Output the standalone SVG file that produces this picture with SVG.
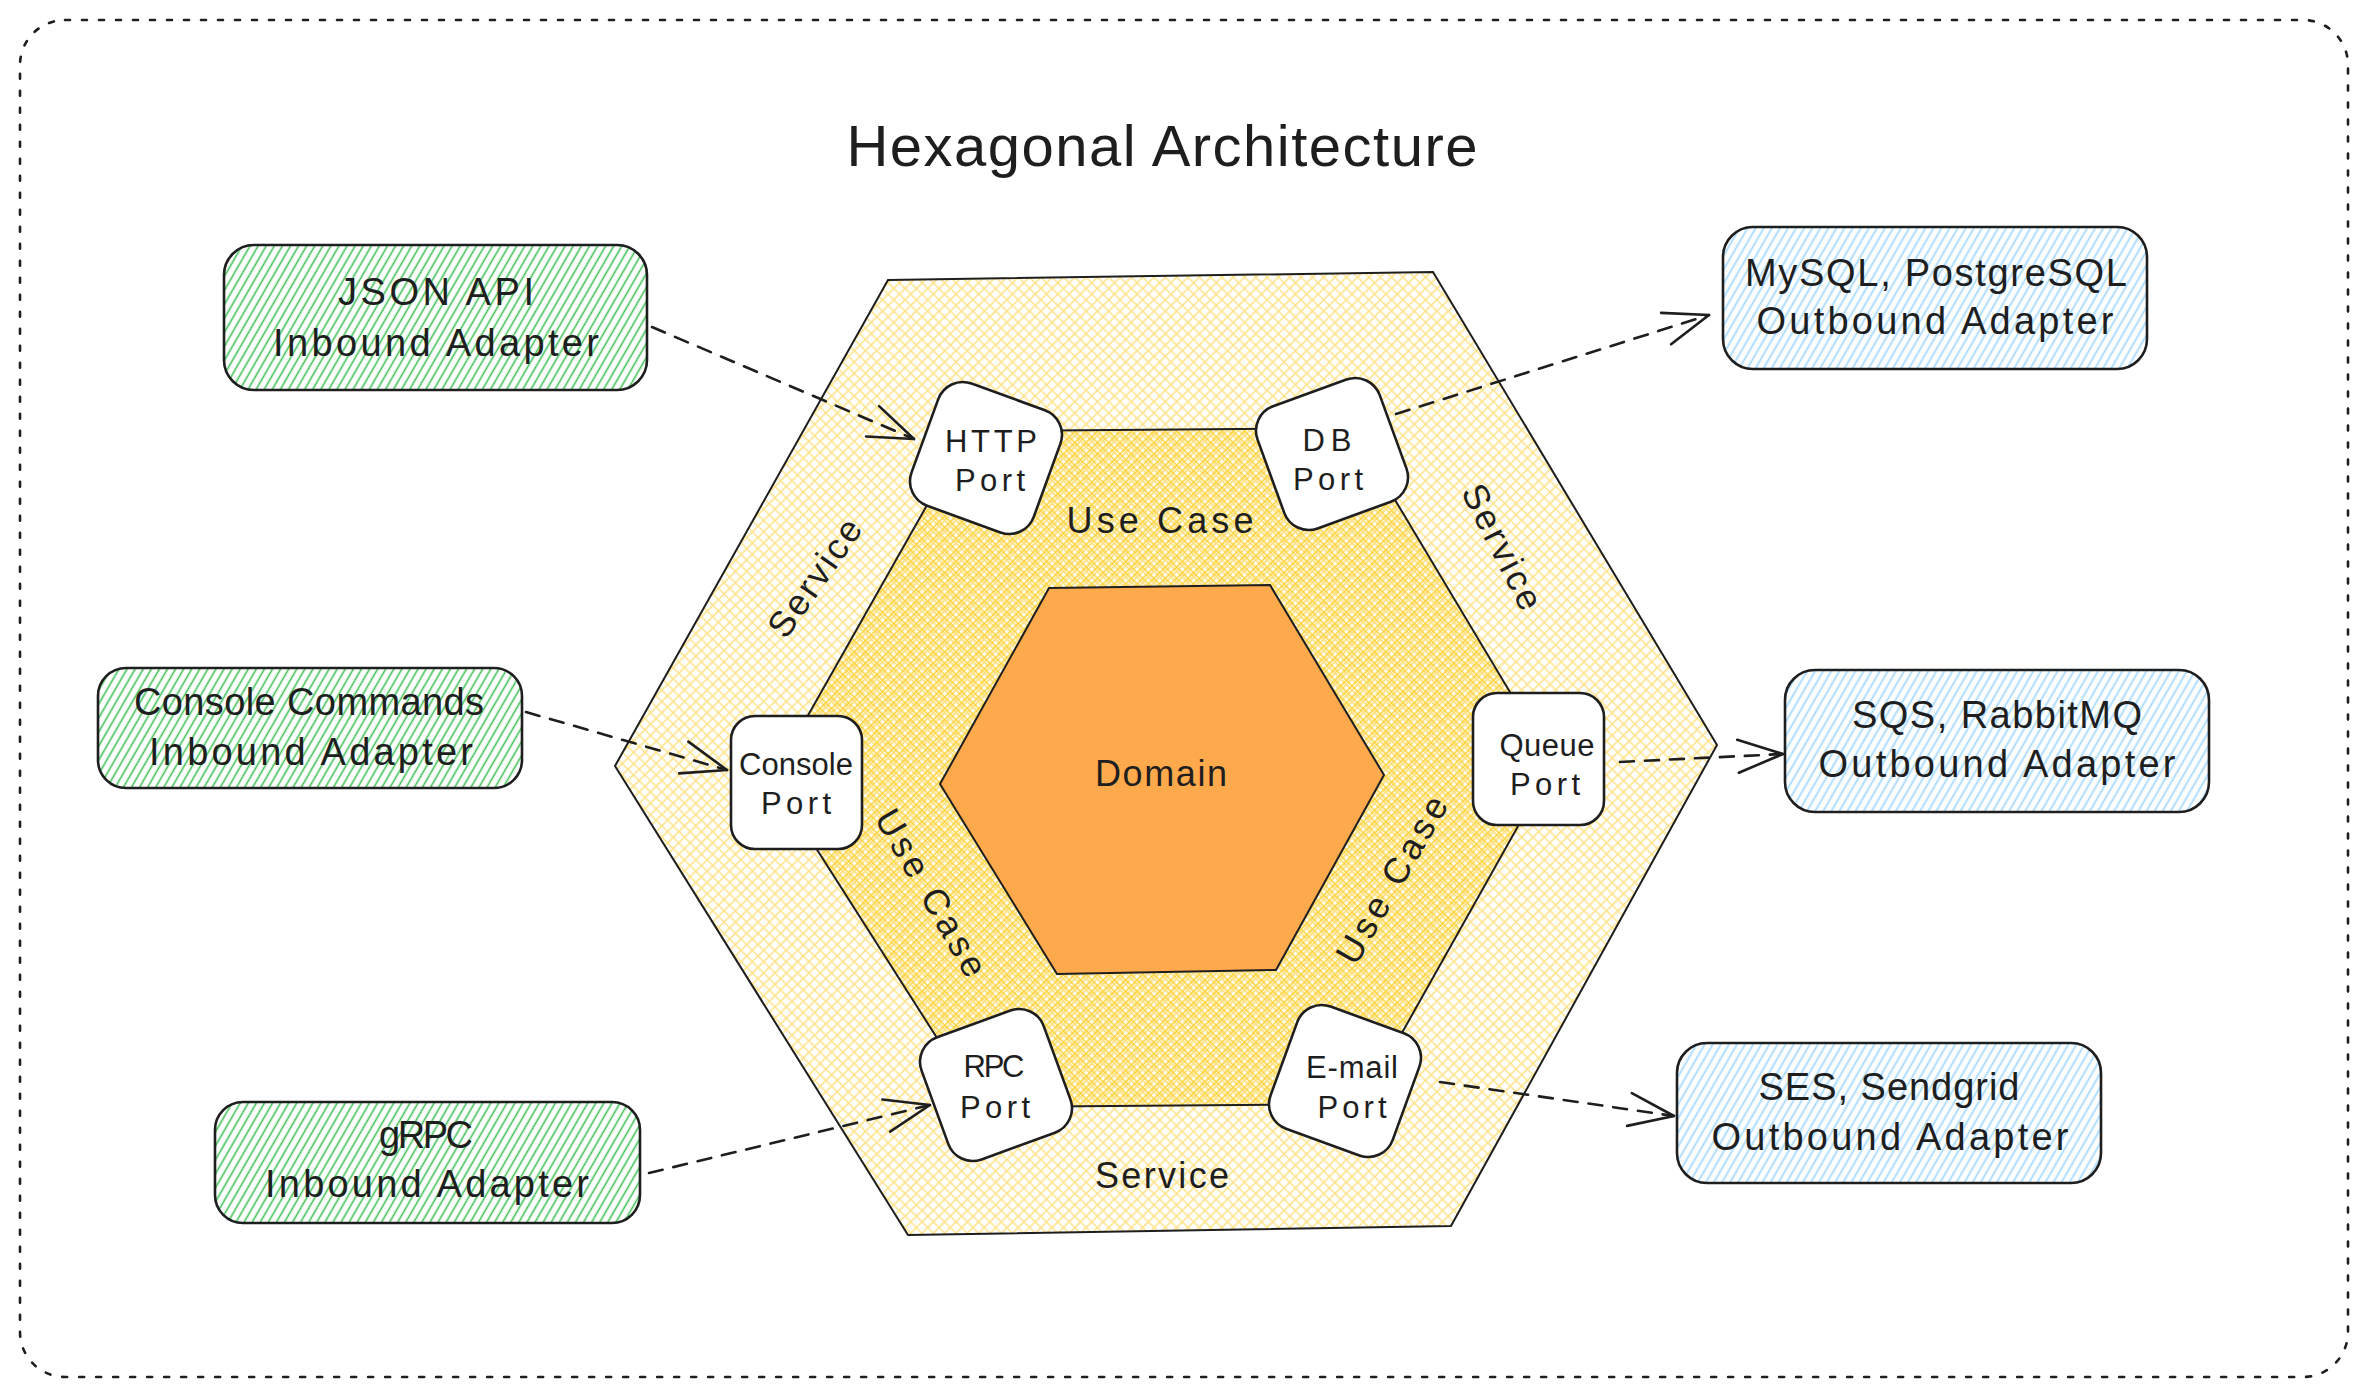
<svg xmlns="http://www.w3.org/2000/svg" width="2367" height="1397" viewBox="0 0 2367 1397">
<defs>
<style>
.txt{font-family:"Liberation Sans","DejaVu Sans",Arial,sans-serif;fill:#1e1e1e;text-anchor:middle}
.title{font-size:58px}
.adp{font-size:38px}
.prt{font-size:31px}
.lbl{font-size:36px}
.box{stroke:#1e1e1e;stroke-width:2.6;stroke-linejoin:round}
.port{fill:#ffffff;stroke:#1e1e1e;stroke-width:2.6}
.hex{stroke:#1e1e1e;stroke-width:2;stroke-linejoin:miter}
.conn{fill:none;stroke:#1e1e1e;stroke-width:2.6;stroke-dasharray:14 11;stroke-linecap:round}
</style>
<pattern id="hGreen" patternUnits="userSpaceOnUse" width="7" height="10" patternTransform="rotate(30)">
<line x1="3.5" y1="0" x2="3.5" y2="10" stroke="#40c057" stroke-width="1.6"/>
</pattern>
<pattern id="hBlue" patternUnits="userSpaceOnUse" width="7" height="10" patternTransform="rotate(30)">
<line x1="3.5" y1="0" x2="3.5" y2="10" stroke="#a5d8ff" stroke-width="1.8"/>
</pattern>
<pattern id="xPale" patternUnits="userSpaceOnUse" width="8" height="8" patternTransform="rotate(45)">
<path d="M0 4H8M4 0V8" stroke="#ffe38a" stroke-width="1.6" fill="none"/>
</pattern>
<pattern id="xGold" patternUnits="userSpaceOnUse" width="8" height="8" patternTransform="rotate(45)">
<path d="M0 1H8M1 0V8" stroke="#ffd43b" stroke-width="1.6" fill="none"/>
</pattern>
<marker id="arr" markerUnits="userSpaceOnUse" viewBox="-52 -22 58 44" refX="0" refY="0" markerWidth="58" markerHeight="44" orient="auto">
<path d="M-45 -16.5L0 0L-45 16.5" fill="none" stroke="#1e1e1e" stroke-width="2.6" stroke-linecap="round" stroke-linejoin="round" stroke-dasharray="none"/>
</marker>
</defs>

<rect width="2367" height="1397" fill="#ffffff"/>

<g id="frame">
<rect x="20" y="20" width="2328" height="1357" rx="45" ry="45" fill="none" stroke="#1e1e1e" stroke-width="2.6" stroke-dasharray="5 12" stroke-linecap="round"/>
</g>

<g id="title">
<text class="txt title" x="1162" y="166" textLength="631">Hexagonal Architecture</text>
</g>

<g id="service-layer">
<polygon class="hex" points="888,280 1433,272 1717,745 1451,1226 908,1235 615,766" fill="url(#xPale)"/>
</g>

<g id="usecase-layer">
<polygon points="969,431 1352,428 1553,764 1362,1104 981,1107 772,779" fill="url(#xPale)"/>
<polygon class="hex" points="969,431 1352,428 1553,764 1362,1104 981,1107 772,779" fill="url(#xGold)"/>
</g>

<g id="domain">
<polygon class="hex" points="1049,588 1270,585 1384,775 1276,970 1057,974 940,784" fill="#ffa94d"/>
<text class="txt lbl" x="1161" y="786" textLength="132">Domain</text>
</g>

<g id="layer-labels">
<text class="txt lbl" x="1160" y="533" textLength="187">Use Case</text>
<text class="txt lbl" x="1162" y="1188" textLength="134">Service</text>
<text class="txt lbl" transform="translate(815,578) rotate(-55)" x="0" y="12" textLength="136">Service</text>
<text class="txt lbl" transform="translate(1502,547) rotate(63)" x="0" y="12" textLength="136">Service</text>
<text class="txt lbl" transform="translate(931,893) rotate(60)" x="0" y="12" textLength="187">Use Case</text>
<text class="txt lbl" transform="translate(1392,880) rotate(-60)" x="0" y="12" textLength="187">Use Case</text>
</g>

<g id="connectors">
<line class="conn" x1="652" y1="327" x2="914" y2="439" marker-end="url(#arr)"/>
<line class="conn" x1="526" y1="712" x2="727" y2="770" marker-end="url(#arr)"/>
<line class="conn" x1="649" y1="1173" x2="930" y2="1105" marker-end="url(#arr)"/>
<line class="conn" x1="1396" y1="414" x2="1709" y2="315" marker-end="url(#arr)"/>
<line class="conn" x1="1620" y1="762" x2="1783" y2="754" marker-end="url(#arr)"/>
<line class="conn" x1="1440" y1="1082" x2="1674" y2="1116" marker-end="url(#arr)"/>
</g>

<g id="http-port">
<rect class="port" x="-65" y="-65" width="130" height="130" rx="26" transform="translate(986,458) rotate(20)"/>
<text class="txt prt" x="991" y="452" textLength="92">HTTP</text>
<text class="txt prt" x="990" y="491" textLength="70">Port</text>
</g>
<g id="db-port">
<rect class="port" x="-65" y="-65" width="130" height="130" rx="26" transform="translate(1332,454) rotate(-20)"/>
<text class="txt prt" x="1327" y="451" textLength="49">DB</text>
<text class="txt prt" x="1328" y="490" textLength="70">Port</text>
</g>
<g id="console-port">
<rect class="port" x="731" y="716" width="131" height="133" rx="24"/>
<text class="txt prt" x="796" y="775" textLength="114">Console</text>
<text class="txt prt" x="796" y="814" textLength="70">Port</text>
</g>
<g id="queue-port">
<rect class="port" x="1473" y="693" width="131" height="132" rx="24"/>
<text class="txt prt" x="1547" y="756" textLength="95">Queue</text>
<text class="txt prt" x="1545" y="795" textLength="70">Port</text>
</g>
<g id="rpc-port">
<rect class="port" x="-65" y="-65" width="130" height="130" rx="26" transform="translate(996,1085) rotate(-20)"/>
<text class="txt prt" x="994" y="1077" textLength="61">RPC</text>
<text class="txt prt" x="995" y="1118" textLength="70">Port</text>
</g>
<g id="email-port">
<rect class="port" x="-65" y="-65" width="130" height="130" rx="26" transform="translate(1345,1081) rotate(20)"/>
<text class="txt prt" x="1352" y="1078" textLength="92">E-mail</text>
<text class="txt prt" x="1352" y="1118" textLength="69">Port</text>
</g>

<g id="json-adapter">
<rect class="box" x="224" y="245" width="423" height="145" rx="30" fill="url(#hGreen)"/>
<text class="txt adp" x="436" y="305" textLength="196">JSON API</text>
<text class="txt adp" x="436" y="356" textLength="326">Inbound Adapter</text>
</g>
<g id="console-adapter">
<rect class="box" x="98" y="668" width="424" height="120" rx="28" fill="url(#hGreen)"/>
<text class="txt adp" x="309" y="715" textLength="350">Console Commands</text>
<text class="txt adp" x="311" y="765" textLength="324">Inbound Adapter</text>
</g>
<g id="grpc-adapter">
<rect class="box" x="215" y="1102" width="425" height="121" rx="28" fill="url(#hGreen)"/>
<text class="txt adp" x="426" y="1148" textLength="94">gRPC</text>
<text class="txt adp" x="427" y="1197" textLength="324">Inbound Adapter</text>
</g>
<g id="mysql-adapter">
<rect class="box" x="1723" y="227" width="424" height="142" rx="30" fill="url(#hBlue)"/>
<text class="txt adp" x="1936" y="286" textLength="382">MySQL, PostgreSQL</text>
<text class="txt adp" x="1935" y="334" textLength="357">Outbound Adapter</text>
</g>
<g id="sqs-adapter">
<rect class="box" x="1785" y="670" width="424" height="142" rx="30" fill="url(#hBlue)"/>
<text class="txt adp" x="1997" y="728" textLength="290">SQS, RabbitMQ</text>
<text class="txt adp" x="1997" y="777" textLength="357">Outbound Adapter</text>
</g>
<g id="ses-adapter">
<rect class="box" x="1677" y="1043" width="424" height="140" rx="30" fill="url(#hBlue)"/>
<text class="txt adp" x="1889" y="1100" textLength="261">SES, Sendgrid</text>
<text class="txt adp" x="1890" y="1150" textLength="357">Outbound Adapter</text>
</g>
</svg>
